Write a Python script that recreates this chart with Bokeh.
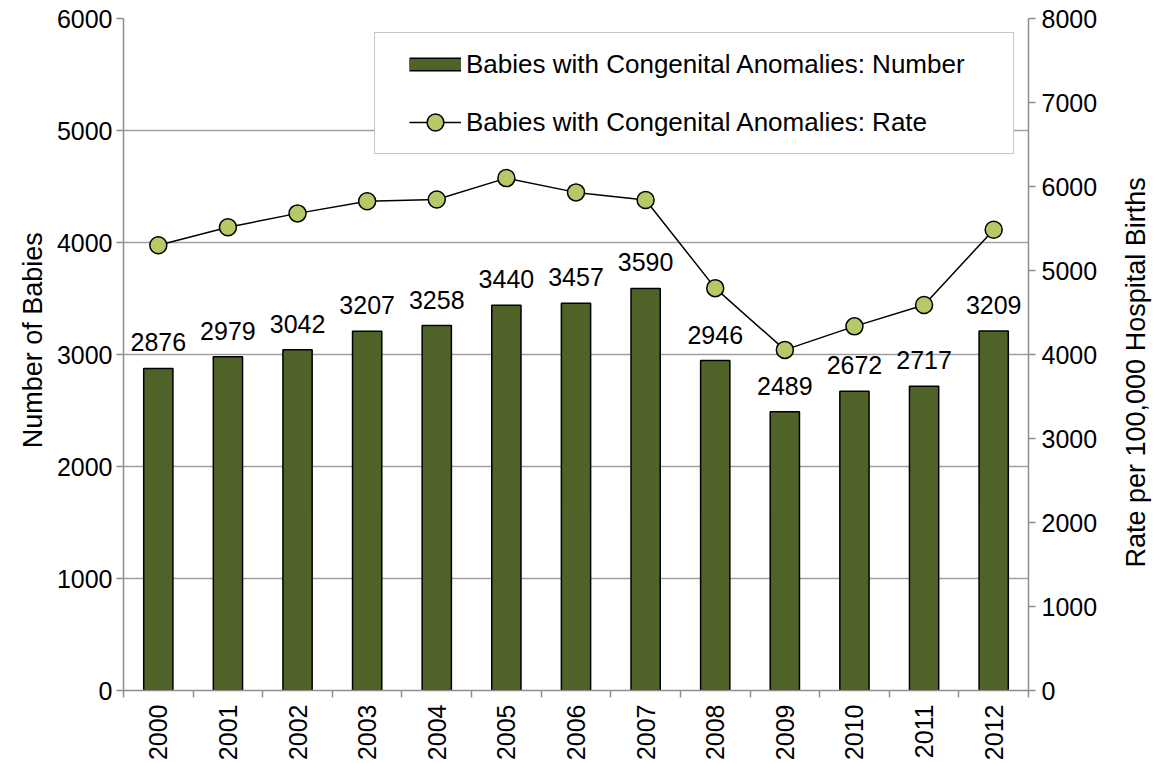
import math
import numpy as np
from bokeh.plotting import figure
from bokeh.models import (Range1d, LinearAxis, FixedTicker, SingleIntervalTicker,
                          ColumnDataSource, Legend, LegendItem)
from bokeh.core.properties import value
from bokeh.embed import file_html
from bokeh.resources import INLINE

# ---------------- data ----------------
years = [2000, 2001, 2002, 2003, 2004, 2005, 2006, 2007, 2008, 2009, 2010, 2011, 2012]
numbers = [2876, 2979, 3042, 3207, 3258, 3440, 3457, 3590, 2946, 2489, 2672, 2717, 3209]
rates = [5300, 5515, 5680, 5825, 5845, 6100, 5930, 5840, 4790, 4055, 4335, 4590, 5485]
number_name = "Babies with Congenital Anomalies: Number"
rate_name = "Babies with Congenital Anomalies: Rate"
left_title = "Number of Babies"
right_title = "Rate per 100,000  Hospital Births"
NUM_MAX = 6000
RATE_MAX = 8000

FONT = "Liberation Sans"
BAR = "#4F6228"
DOT = "#B5CA66"
GRID = "#A0A0A0"
AXIS = "#8E8E8E"
TICK_PX = "25px"
TITLE_PX = "27px"
LEGEND_PX = "26px"

src = ColumnDataSource(dict(year=years, num=numbers, rate=rates,
                            lab=[str(v) for v in numbers]))

p = figure(width=1169, height=763,
           x_range=Range1d(years[0] - 0.5, years[-1] + 0.5),
           y_range=Range1d(0, NUM_MAX),
           output_backend="svg", toolbar_location=None,
           min_border_left=123, min_border_right=139,
           min_border_top=18, min_border_bottom=73)
p.extra_y_ranges = {"rate": Range1d(0, RATE_MAX)}
p.outline_line_color = None
p.background_fill_color = "white"
p.border_fill_color = "white"

# grid
p.xgrid.visible = False
p.ygrid.grid_line_color = GRID
p.ygrid.grid_line_width = 1.5


def style_ticks(ax):
    ax.axis_line_color = AXIS
    ax.axis_line_width = 1.5
    ax.major_label_text_font = FONT
    ax.major_label_text_font_size = TICK_PX
    ax.major_label_text_color = "black"


def title_axis(range_name, pos, text, standoff):
    # a bare axis whose single label is the (bottom-to-top) axis title
    return LinearAxis(y_range_name=range_name, ticker=FixedTicker(ticks=[pos]),
                      major_label_overrides={pos: text},
                      major_label_orientation=math.pi / 2,
                      major_label_standoff=standoff,
                      major_tick_out=0, major_tick_in=0,
                      minor_tick_out=0, minor_tick_in=0,
                      axis_line_color=None,
                      major_label_text_font=FONT,
                      major_label_text_font_size=TITLE_PX,
                      major_label_text_color="black")


# x axis: labels at year centres, ticks between categories
xa = p.xaxis[0]
xa.ticker = FixedTicker(ticks=years,
                        minor_ticks=[y - 0.5 for y in years] + [years[-1] + 0.5])
style_ticks(xa)
xa.major_tick_out = 0
xa.major_tick_in = 0
xa.minor_tick_out = 7
xa.minor_tick_in = 0
xa.minor_tick_line_color = AXIS
xa.minor_tick_line_width = 1.5
xa.major_label_orientation = math.pi / 2
xa.major_label_standoff = 7

# left axis
ya = p.yaxis[0]
ya.ticker = SingleIntervalTicker(interval=1000, num_minor_ticks=0)
style_ticks(ya)
ya.major_tick_out = 7
ya.major_tick_in = 0
ya.minor_tick_out = 0
ya.minor_tick_in = 0
ya.major_tick_line_color = AXIS
ya.major_tick_line_width = 1.5
ya.major_label_standoff = 4
p.add_layout(title_axis("default", int(NUM_MAX * 0.682), left_title, 20), "left")

# right axis
ra = LinearAxis(y_range_name="rate",
                ticker=SingleIntervalTicker(interval=1000, num_minor_ticks=0))
style_ticks(ra)
ra.major_tick_out = 7
ra.major_tick_in = 0
ra.minor_tick_out = 0
ra.minor_tick_in = 0
ra.major_tick_line_color = AXIS
ra.major_tick_line_width = 1.5
ra.major_label_standoff = 6
p.add_layout(ra, "right")
p.add_layout(title_axis("rate", int(RATE_MAX * 0.183), right_title, 36), "right")

# bars
bars = p.vbar(x="year", top="num", width=0.42, source=src,
              fill_color=BAR, line_color="black", line_width=1.5)

# bar value labels
p.text(x="year", y="num", text="lab", source=src, y_offset=-26,
       text_align="center", text_baseline="alphabetic",
       text_font=value(FONT), text_font_size=TICK_PX, text_color="black")

# rate line + markers
ln = p.line(x="year", y="rate", source=src, y_range_name="rate",
            line_color="black", line_width=1.5)
dots = p.scatter(x="year", y="rate", source=src, y_range_name="rate",
                 marker="circle", size=17, fill_color=DOT,
                 line_color="black", line_width=1.5)

# legend swatch for the bar series (outlined flat bar); NaN data draws nothing in the plot
nan_src = ColumnDataSource(dict(x=np.array([np.nan]), y=np.array([np.nan])))
sw_out = p.line(x="x", y="y", source=nan_src, line_color="black", line_width=14)
sw_in = p.line(x="x", y="y", source=nan_src, line_color=BAR, line_width=11)
frame_dummy = p.line(x="x", y="y", source=nan_src, line_alpha=0)

# legend frame (box only)
legend_box = Legend(items=[LegendItem(label=" ", renderers=[frame_dummy])],
                    location="top_right", margin=14, padding=0, spacing=0,
                    glyph_width=0, glyph_height=1, label_standoff=0,
                    label_width=638, label_height=120,
                    label_text_font_size="1px",
                    border_line_color=AXIS, border_line_width=1.5,
                    background_fill_color="white", background_fill_alpha=1.0)
p.add_layout(legend_box)

# legend items
legend = Legend(items=[LegendItem(label=number_name, renderers=[sw_out, sw_in]),
                       LegendItem(label=rate_name, renderers=[ln, dots])],
                location="top_right", margin=25, padding=0, spacing=16,
                glyph_width=52, glyph_height=42, label_height=42,
                label_width=537, label_standoff=5,
                label_text_font=FONT, label_text_font_size=LEGEND_PX,
                label_text_color="black",
                border_line_color=None, background_fill_alpha=0.0)
p.add_layout(legend)

open("out.html", "w").write(file_html(p, INLINE))
